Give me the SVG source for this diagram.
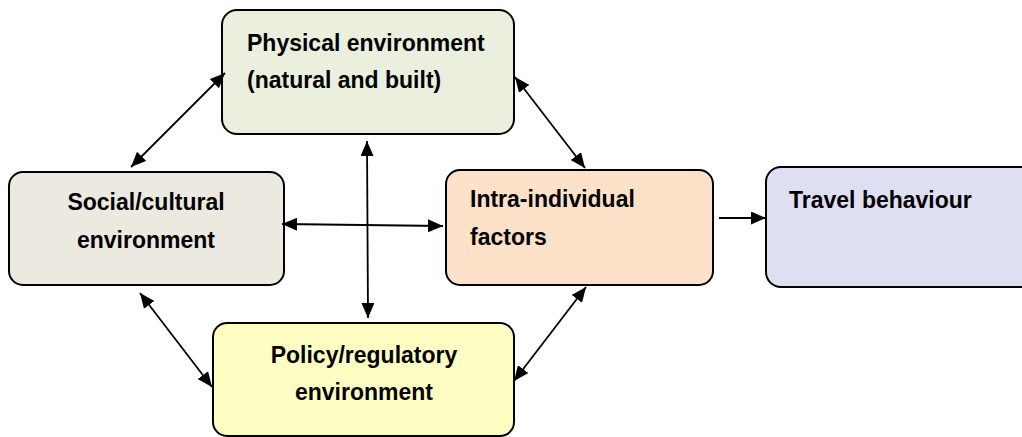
<svg xmlns="http://www.w3.org/2000/svg" width="1022" height="437" viewBox="0 0 1022 437">
<style>
.box{stroke:#000;stroke-width:2}
.t{font-family:"Liberation Sans",Arial,sans-serif;font-weight:bold;font-size:23px;fill:#000}
.c{text-anchor:middle}
.conn line{stroke:#000;stroke-width:1.8;fill:none}
</style>
<defs>
<marker id="ah" markerUnits="userSpaceOnUse" markerWidth="16" markerHeight="13" refX="15" refY="6.5" orient="auto-start-reverse" viewBox="0 0 16 13">
<path d="M0,0 L15,6.5 L0,13 z" fill="#000"/>
</marker>
</defs>
<rect width="1022" height="437" fill="#fff"/>
<g id="physical">
<rect class="box" x="222" y="10" width="292" height="124" rx="15" fill="#EAF0DD"/>
<text class="t" x="247" y="51">Physical environment</text>
<text class="t" x="247" y="88">(natural and built)</text>
</g>
<g id="social">
<rect class="box" x="9" y="172" width="275" height="113" rx="14" fill="#ECEAE0"/>
<text class="t c" x="146" y="210">Social/cultural</text>
<text class="t c" x="146" y="248">environment</text>
</g>
<g id="intra">
<rect class="box" x="446" y="170" width="267" height="115" rx="14" fill="#FDE1C8"/>
<text class="t" x="470" y="207">Intra-individual</text>
<text class="t" x="470" y="245">factors</text>
</g>
<g id="travel">
<rect class="box" x="766" y="167" width="272" height="120" rx="15" fill="#DFDFF4"/>
<text class="t" x="789" y="208">Travel behaviour</text>
</g>
<g id="policy">
<rect class="box" x="213" y="323" width="301" height="113" rx="14" fill="#FFFFC4"/>
<text class="t c" x="364" y="363">Policy/regulatory</text>
<text class="t c" x="364" y="400">environment</text>
</g>
<g id="connectors" class="conn">
<line x1="131" y1="167" x2="225" y2="73" marker-start="url(#ah)" marker-end="url(#ah)"/>
<line x1="515" y1="77" x2="585" y2="168" marker-start="url(#ah)" marker-end="url(#ah)"/>
<line x1="367" y1="141" x2="368" y2="318" marker-start="url(#ah)" marker-end="url(#ah)"/>
<line x1="282" y1="224" x2="443" y2="226" marker-start="url(#ah)" marker-end="url(#ah)"/>
<line x1="140" y1="293" x2="212" y2="387" marker-start="url(#ah)" marker-end="url(#ah)"/>
<line x1="586" y1="287" x2="514" y2="381" marker-start="url(#ah)" marker-end="url(#ah)"/>
<line x1="719" y1="218" x2="766" y2="218" marker-end="url(#ah)"/>
</g>
</svg>
